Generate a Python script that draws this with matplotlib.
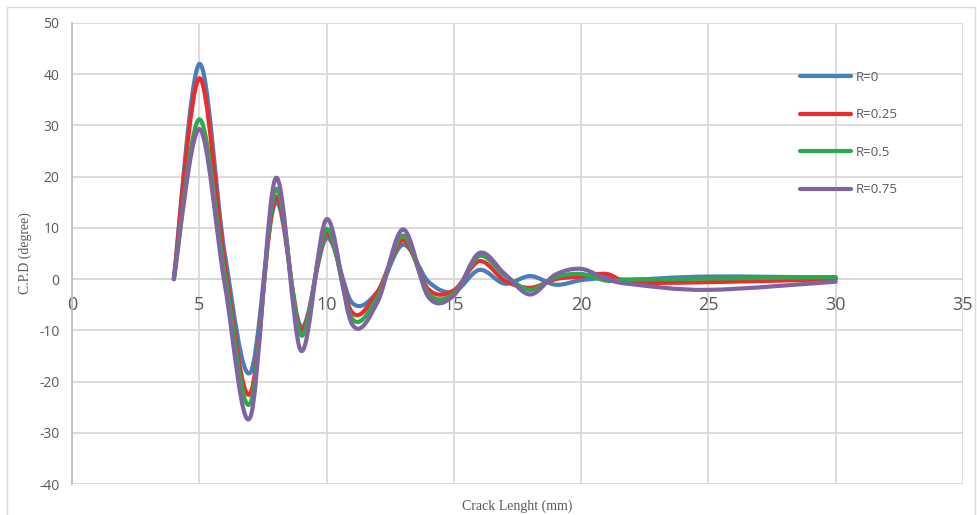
import numpy as np
import matplotlib
matplotlib.use("Agg")
import matplotlib.pyplot as plt
from matplotlib.path import Path
from matplotlib.patches import PathPatch, Rectangle
from matplotlib.lines import Line2D

# crack length points (mm)
crack = [4, 5, 6, 7, 8, 9, 10, 11, 12, 13, 14, 15, 16, 17, 18, 19, 20, 21, 22, 25, 30]

# C.P.D values
r_000 = [0, 42.0, 5.0, -18.3, 15.0, -9.3, 8.0, -4.6, -2.5, 6.7, -0.5, -2.5, 1.8, -0.9, 0.6, -1.1, -0.2, 0.2, -0.1, 0.5, 0.3]
r_025 = [0, 39.2, 3.0, -22.4, 16.0, -10.0, 9.0, -6.5, -2.5, 7.6, -2.0, -2.2, 3.5, -0.3, -1.7, 0.0, 0.5, 1.0, -0.6, -0.6, 0.0]
r_050 = [0, 31.2, 1.0, -24.3, 17.5, -11.0, 9.8, -7.7, -3.5, 8.5, -2.8, -2.8, 4.5, 0.7, -2.1, 0.4, 1.0, -0.3, -0.1, 0.1, 0.4]
r_075 = [0, 29.3, -1.0, -27.0, 19.7, -14.0, 11.7, -8.8, -4.5, 9.7, -3.5, -3.2, 5.1, 1.0, -3.0, 0.9, 2.0, 0.0, -1.0, -2.1, -0.5]

labels = ["R=0", "R=0.25", "R=0.5", "R=0.75"]
colors = ["#4A7EBB", "#EE2B2B", "#2EA84C", "#8064A2"]

x_ticks = [0, 5, 10, 15, 20, 25, 30, 35]
y_ticks = [-40, -30, -20, -10, 0, 10, 20, 30, 40, 50]


def smooth_path(xs, ys):
    # Excel-like smoothed line: cubic bezier through every point
    pts = np.column_stack([xs, ys]).astype(float)
    n = len(pts)
    verts = [pts[0]]
    codes = [Path.MOVETO]
    for i in range(n - 1):
        p0 = pts[i - 1] if i > 0 else pts[i]
        p1 = pts[i]
        p2 = pts[i + 1]
        p3 = pts[i + 2] if i + 2 < n else pts[i + 1]
        verts += [p1 + (p2 - p0) / 6, p2 - (p3 - p1) / 6, p2]
        codes += [Path.CURVE4] * 3
    return Path(verts, codes)


plt.rcParams['font.family'] = ['Open Sans', 'DejaVu Sans']
plt.rcParams['axes.unicode_minus'] = False

fig = plt.figure(figsize=(9.78, 5.15), dpi=100)
fig.patches.append(Rectangle((7 / 978, -0.01), 968 / 978, 1 - 7 / 515 + 0.01,
                             transform=fig.transFigure, fill=False,
                             edgecolor="#D9D9D9", lw=1))

ax = fig.add_axes([72 / 978, 1 - 484 / 515, 891 / 978, 461 / 515])
ax.set_xlim(0, 35)
ax.set_ylim(-40, 50)
ax.set_xticks(x_ticks)
ax.set_yticks(y_ticks)
ax.grid(True, color="#D9D9D9", lw=1.3)
ax.set_axisbelow(True)
for side in ["top", "right", "bottom"]:
    ax.spines[side].set_visible(False)
ax.spines["left"].set_color("#BFBFBF")
ax.spines["left"].set_linewidth(1.3)
ax.axhline(0, color="#D0D0D0", lw=1.3, zorder=0.5)

ax.tick_params(axis="both", length=0, colors="#595959")
ax.tick_params(axis="y", labelsize=10, pad=9)
ax.tick_params(axis="x", labelsize=13, pad=0)

series = [r_000, r_025, r_050, r_075]
handles = []
for vals, col, lab in zip(series, colors, labels):
    patch = PathPatch(smooth_path(crack, vals), fill=False, edgecolor=col,
                      lw=3.0, capstyle="round", joinstyle="round", zorder=3)
    ax.add_patch(patch)
    handles.append(Line2D([], [], color=col, lw=3.0, solid_capstyle="round", label=lab))

ax.legend(handles=handles, loc="upper left", bbox_to_anchor=(728 / 891, 1 - 48 / 461),
          frameon=False, fontsize=9.5, labelcolor="#595959", handlelength=3.9,
          handletextpad=0.3, labelspacing=1.85, borderpad=0, borderaxespad=0)

ax.set_ylabel("C.P.D (degree)", family="Liberation Serif", fontsize=10, color="#595959")
ax.yaxis.set_label_coords(-40 / 891, 0.5)
ax.set_xlabel("Crack Lenght (mm)", family="Liberation Serif", fontsize=10, color="#595959")
ax.xaxis.set_label_coords(0.5, -16 / 461)

# x tick labels placed under the zero line
zero_frac = 40 / 90
for t in ax.xaxis.get_major_ticks():
    t.label1.set_transform(ax.get_xaxis_transform())
    t.label1.set_y(zero_frac - 26 / 461)
    t.label1.set_verticalalignment("center")

fig.savefig("out.png", dpi=100)
